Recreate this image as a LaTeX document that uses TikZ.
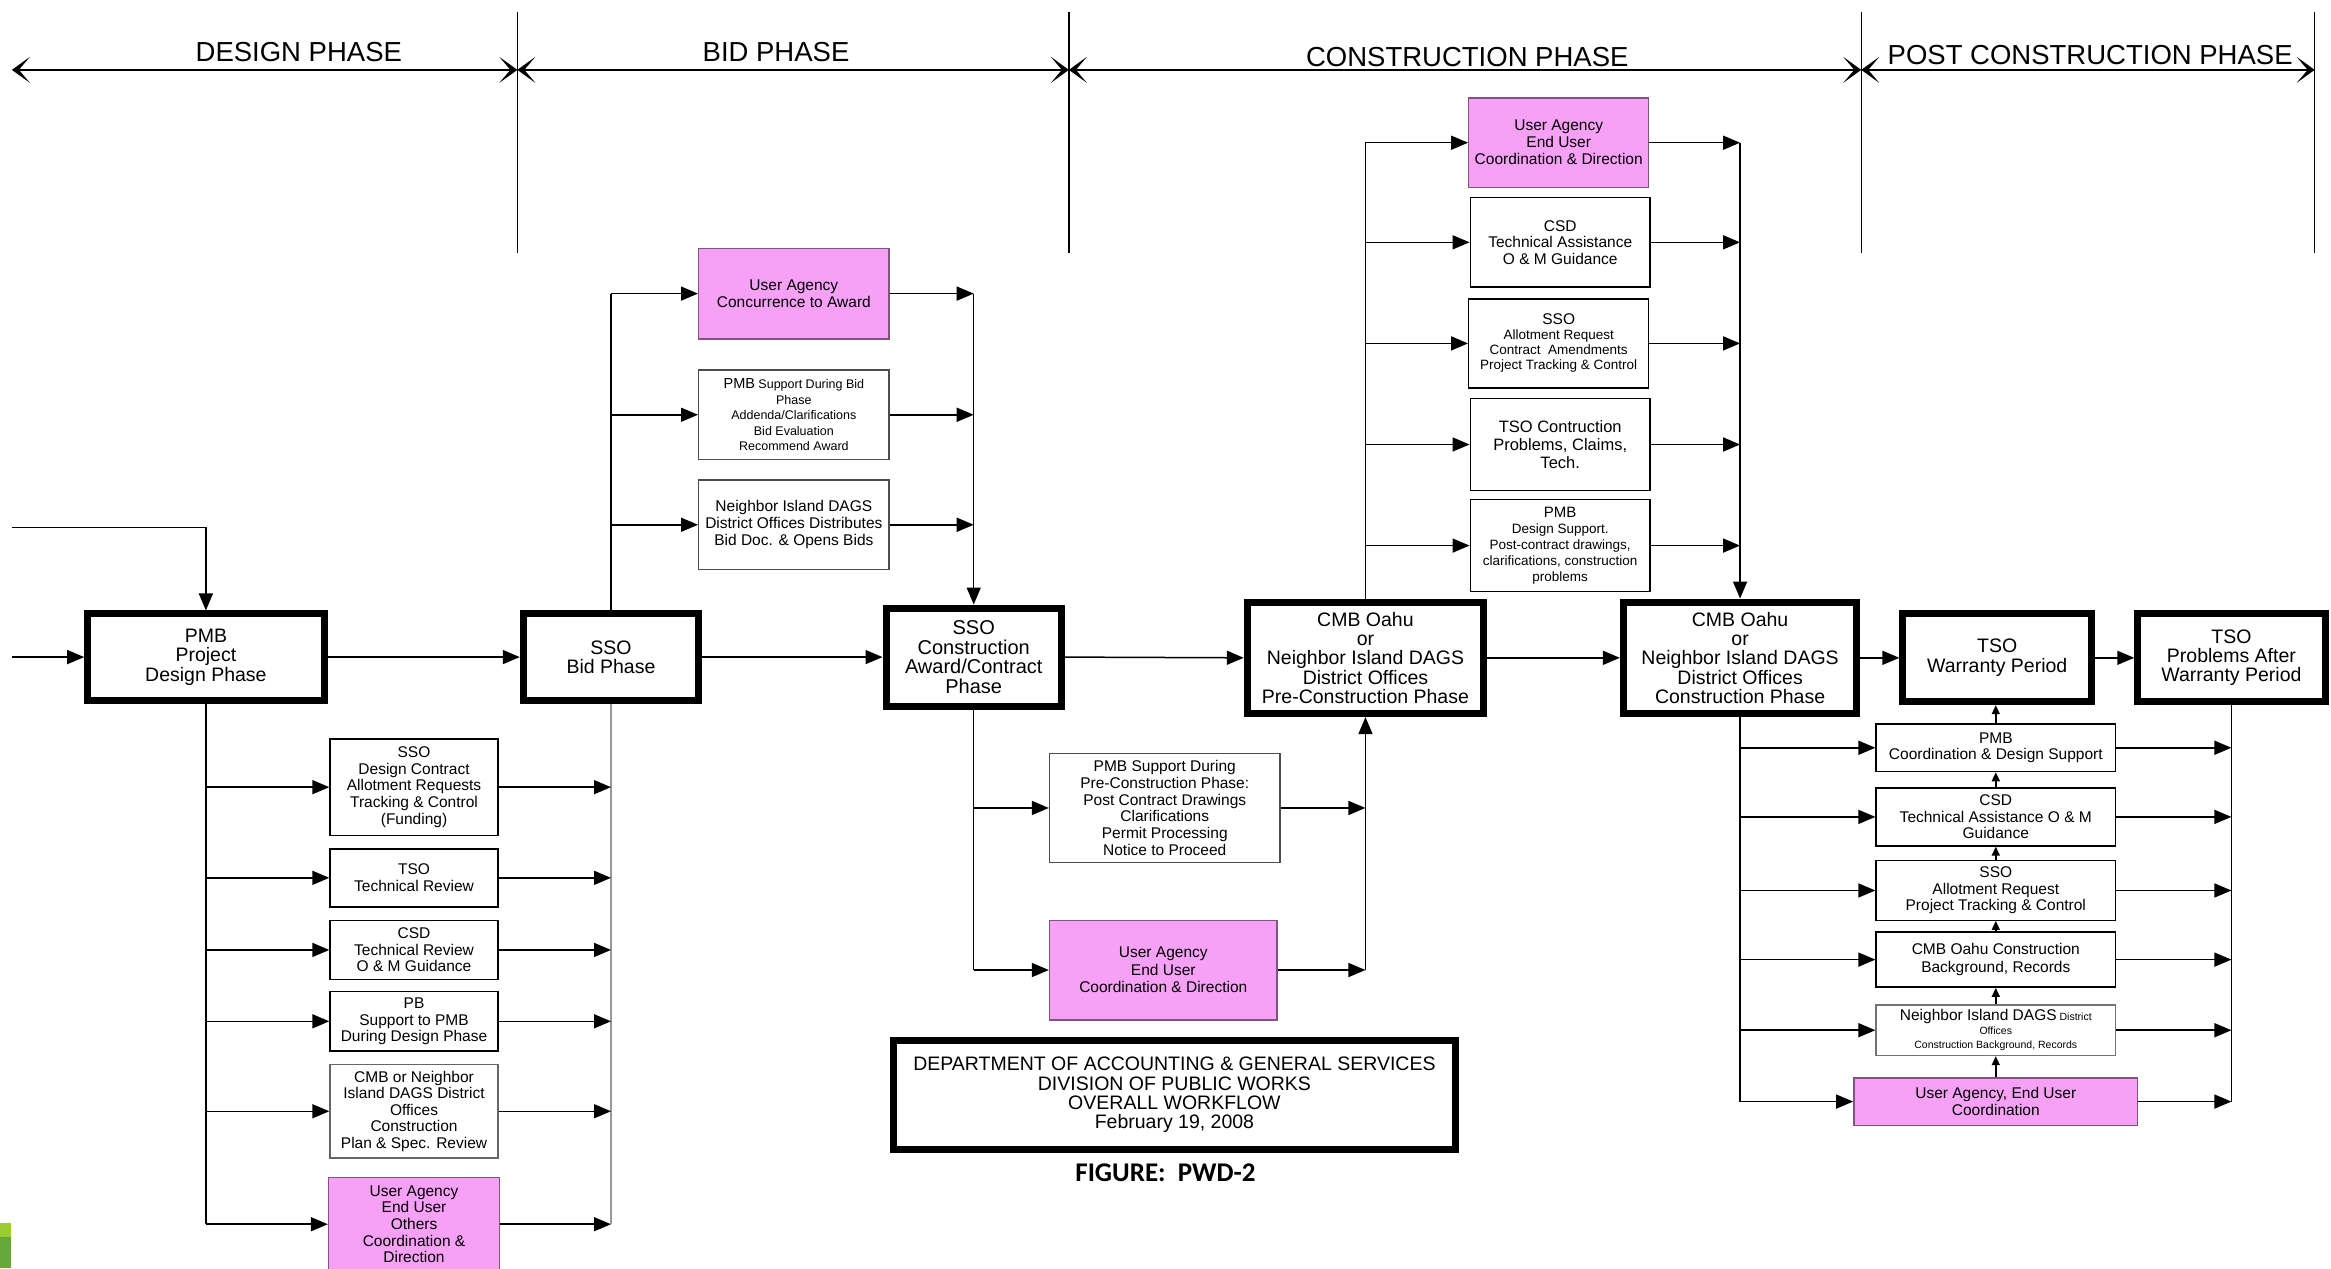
\documentclass[tikz,border=0pt]{standalone}
\usepackage{fontspec}
\setmainfont{Liberation Sans}
\newfontfamily\figfont{Carlito}
\usetikzlibrary{arrows.meta}

\definecolor{agency}{RGB}{246,161,246}
\definecolor{agencyline}{RGB}{125,85,125}
\definecolor{leafA}{RGB}{154,205,50}
\definecolor{leafB}{RGB}{102,168,58}

\newcommand\fsz[2]{\fontsize{#1pt}{#2pt}\selectfont}

\tikzset{
  box/.style={draw, line width=1.4pt, align=center, inner sep=0pt, font=\fsz{15.5}{16.6}},
  phasebox/.style={draw, line width=7pt, align=center, inner sep=0pt, font=\fsz{19.5}{19.3}},
  agencybox/.style={box, fill=agency, draw=agencyline},
  flow/.style={line width=1.5pt, -{Triangle[length=17pt,width=14pt]}},
  link/.style={line width=1.5pt},
  greylink/.style={line width=1.5pt, draw=black!40},
  upflow/.style={line width=1.5pt, -{Triangle[length=9pt,width=8pt]}},
  divider/.style={line width=1.3pt},
  span/.style={line width=2.4pt,
    {Stealth[length=18pt,width=26pt,inset=11pt]}-{Stealth[length=18pt,width=26pt,inset=11pt]}},
  phaselabel/.style={anchor=base, font=\fsz{27.5}{30}, inner sep=0pt},
}

% box from its corners (x1,y1)-(x2,y2) in drawing units
\newcommand\bx[7]{\node[#6, minimum width={(#4-#2)*1.4866pt}, minimum height={(#5-#3)*1.4866pt}]
  (#1) at ({(#2+#4)/2},{(#3+#5)/2}) {#7};}

\begin{document}
\begin{tikzpicture}[x=1.4866pt, y=-1.4866pt]
\useasboundingbox (0,0) rectangle (1568,853);

% ---------------- phase header ----------------
\coordinate (h0) at (8,47);
\coordinate (h1) at (348,47);
\coordinate (h2) at (719,47);
\coordinate (h3) at (1252,47);
\coordinate (h4) at (1557,47);
\foreach \p in {1,2,3,4}
  \draw[divider] (h\p) ++(0,-39) -- ++(0,162);
\draw[span] (h0) -- (h1);
\draw[span] (h1) -- (h2);
\draw[span] (h2) -- (h3);
\draw[span] (h3) -- (h4);
\node[phaselabel] (lbldesign) at (201,41.5) {DESIGN PHASE};
\node[phaselabel] (lblbid) at (522,41.5) {BID PHASE};
\node[phaselabel] (lblcons) at (987,45) {CONSTRUCTION PHASE};
\node[phaselabel] (lblpost) at (1406,43.5) {POST CONSTRUCTION PHASE};

% ---------------- main phase boxes ----------------
\bx{pmb}{59}{413}{218}{471}{phasebox}{PMB\\Project\\Design Phase}
\bx{ssobid}{352}{413}{470}{471}{phasebox}{SSO\\Bid Phase}
\bx{ssoc}{596}{409}{714}{475}{phasebox, font=\fsz{20}{19.8}}{SSO\\Construction\\Award/Contract\\Phase}
\bx{cmbp}{839}{405}{998}{480}{phasebox}{CMB Oahu\\or\\Neighbor Island DAGS\\District Offices\\Pre-Construction Phase}
\bx{cmbc}{1092}{405}{1249}{480}{phasebox}{CMB Oahu\\or\\Neighbor Island DAGS\\District Offices\\Construction Phase}
\bx{tsow}{1280}{413}{1407}{472}{phasebox}{TSO\\Warranty Period}
\bx{tsop}{1438}{413}{1564}{472}{phasebox}{TSO\\Problems After\\Warranty Period}

% ---------------- design phase support ----------------
\bx{d1}{222}{497}{335}{562}{box}{SSO\\Design Contract\\Allotment Requests\\Tracking \& Control\\(Funding)}
\bx{d2}{222}{571}{335}{610}{box}{TSO\\Technical Review}
\bx{d3}{222}{619}{335}{659}{box}{CSD\\Technical Review\\O \& M Guidance}
\bx{d4}{222}{667}{335}{707}{box}{PB\\Support to PMB\\During Design Phase}
\bx{d5}{222}{716}{335}{779}{box, draw=black!60}{CMB or Neighbor\\Island DAGS District\\Offices\\Construction\\Plan \& Spec. Review}
\bx{d6}{221}{792}{336}{855}{agencybox}{User Agency\\End User\\Others\\Coordination \&\\Direction}

% ---------------- bid phase support ----------------
\bx{b1}{470}{167}{598}{228}{agencybox}{User Agency\\Concurrence to Award}
\bx{b2}{470}{249}{598}{309}{box, draw=black!70, font=\fsz{12.5}{15.6}}{{\fsz{14.5}{15.6}PMB} Support During Bid\\Phase\\Addenda/Clarifications\\Bid Evaluation\\Recommend Award}
\bx{b3}{470}{323}{598}{383}{box, draw=black!70, font=\fsz{15.5}{17}}{Neighbor Island DAGS\\District Offices Distributes\\Bid Doc. \& Opens Bids}

% ---------------- pre-construction support ----------------
\bx{p1}{706}{507}{861}{580}{box, draw=black!70, font=\fsz{15.5}{16.9}}{PMB Support During\\Pre-Construction Phase:\\Post Contract Drawings\\Clarifications\\Permit Processing\\Notice to Proceed}
\bx{p2}{706}{619}{859}{686}{agencybox, font=\fsz{15.5}{17.5}}{User Agency\\End User\\Coordination \& Direction}

% ---------------- construction phase support ----------------
\bx{c1}{988}{66}{1109}{126}{agencybox, font=\fsz{15.5}{17}}{User Agency\\End User\\Coordination \& Direction}
\bx{c2}{989}{133}{1110}{193}{box, font=\fsz{15.5}{16.6}}{CSD\\Technical Assistance\\O \& M Guidance}
\bx{c3}{988}{201}{1109}{261}{box, font=\fsz{13.5}{15}}{{\fsz{15.5}{15}SSO}\\Allotment Request\\Contract\ \ Amendments\\Project Tracking \& Control}
\bx{c4}{989}{268}{1110}{330}{box, font=\fsz{16.5}{17.8}}{TSO Contruction\\Problems, Claims,\\Tech.}
\bx{c5}{989}{336}{1110}{398}{box, font=\fsz{13.5}{16}}{{\fsz{15}{16}PMB}\\Design Support.\\Post-contract drawings,\\clarifications, construction\\problems}

% ---------------- post construction support ----------------
\bx{q1}{1262}{487}{1423}{519}{box}{PMB\\Coordination \& Design Support}
\bx{q2}{1262}{530}{1423}{569}{box}{CSD\\Technical Assistance O \& M\\Guidance}
\bx{q3}{1262}{579}{1423}{619}{box}{SSO\\Allotment Request\\Project Tracking \& Control}
\bx{q4}{1262}{627}{1423}{664}{box, font=\fsz{15.5}{17.5}}{CMB Oahu Construction\\Background, Records}
\bx{q5}{1262}{676}{1423}{710}{box, draw=black!55, font=\fsz{10.5}{14}}{{\fsz{15.5}{14}Neighbor Island DAGS} District\\Offices\\Construction Background, Records}
\bx{q6}{1247}{725}{1438}{757}{agencybox}{User Agency, End User\\Coordination}

% ---------------- title block ----------------
\bx{title}{601}{700}{979}{773}{phasebox, font=\fsz{19.5}{19.3}}{DEPARTMENT OF ACCOUNTING \& GENERAL SERVICES\\DIVISION OF PUBLIC WORKS\\OVERALL WORKFLOW\\February 19, 2008}
\node[font=\figfont\bfseries\fsz{27}{30}, anchor=base, inner sep=0pt] (figlabel) at (784,795) {FIGURE:\ \ PWD-2};

% ---------------- main chain ----------------
\coordinate (feedtop) at (8,355);
\coordinate (feedleft) at (8,442);
\draw[flow] (feedtop) -| (pmb.north);
\draw[flow] (feedleft) -- (pmb.west);
\draw[flow] (pmb.east) -- (ssobid.west);
\draw[flow] (ssobid.east) -- (ssoc.west);
\draw[flow] (ssoc.east) -- (cmbp.west);
\draw[flow] (cmbp.east) -- (cmbc.west);
\draw[flow] (cmbc.east) -- (tsow.west);
\draw[flow] (tsow.east) -- (tsop.west);

% ---------------- design phase branches ----------------
\draw[link] (pmb.south) -- (pmb.south |- d6.west);
\draw[greylink] (ssobid.south) -- (ssobid.south |- d6.east);
\foreach \i in {1,...,6}{
  \draw[flow] (pmb.south |- d\i.west) -- (d\i.west);
  \draw[flow] (d\i.east) -- (ssobid.south |- d\i.east);
}

% ---------------- bid phase branches ----------------
\draw[link] (ssobid.north) -- (ssobid.north |- b1.west);
\draw[flow] (ssoc.north |- b1.east) -- (ssoc.north);
\foreach \i in {1,2,3}{
  \draw[flow] (ssobid.north |- b\i.west) -- (b\i.west);
  \draw[flow] (b\i.east) -- (ssoc.north |- b\i.east);
}

% ---------------- pre-construction branches ----------------
\draw[link] (ssoc.south) -- (ssoc.south |- p2.west);
\draw[flow] (cmbp.south |- p2.east) -- (cmbp.south);
\foreach \i in {1,2}{
  \draw[flow] (ssoc.south |- p\i.west) -- (p\i.west);
  \draw[flow] (p\i.east) -- (cmbp.south |- p\i.east);
}

% ---------------- construction branches ----------------
\draw[link] (cmbp.north) -- (cmbp.north |- c1.west);
\draw[flow] (cmbc.north |- c1.east) -- (cmbc.north);
\foreach \i in {1,...,5}{
  \draw[flow] (cmbp.north |- c\i.west) -- (c\i.west);
  \draw[flow] (c\i.east) -- (cmbc.north |- c\i.east);
}

% ---------------- post construction branches ----------------
\draw[link] (cmbc.south) -- (cmbc.south |- q6.west);
\draw[link] (tsop.south) -- (tsop.south |- q6.east);
\foreach \i in {1,...,6}{
  \draw[flow] (cmbc.south |- q\i.west) -- (q\i.west);
  \draw[flow] (q\i.east) -- (tsop.south |- q\i.east);
}
\draw[upflow] (q6.north) -- (q5.south);
\draw[upflow] (q5.north) -- (q4.south);
\draw[upflow] (q4.north) -- (q3.south);
\draw[upflow] (q3.north) -- (q2.south);
\draw[upflow] (q2.north) -- (q1.south);
\draw[upflow] (q1.north) -- (q1.north |- tsow.south);

% ---------------- corner mark ----------------
\fill[leafA] (0,822.7) rectangle (7.4,832.1);
\fill[leafB] (0,832.1) rectangle (7.4,853);
\end{tikzpicture}
\end{document}
